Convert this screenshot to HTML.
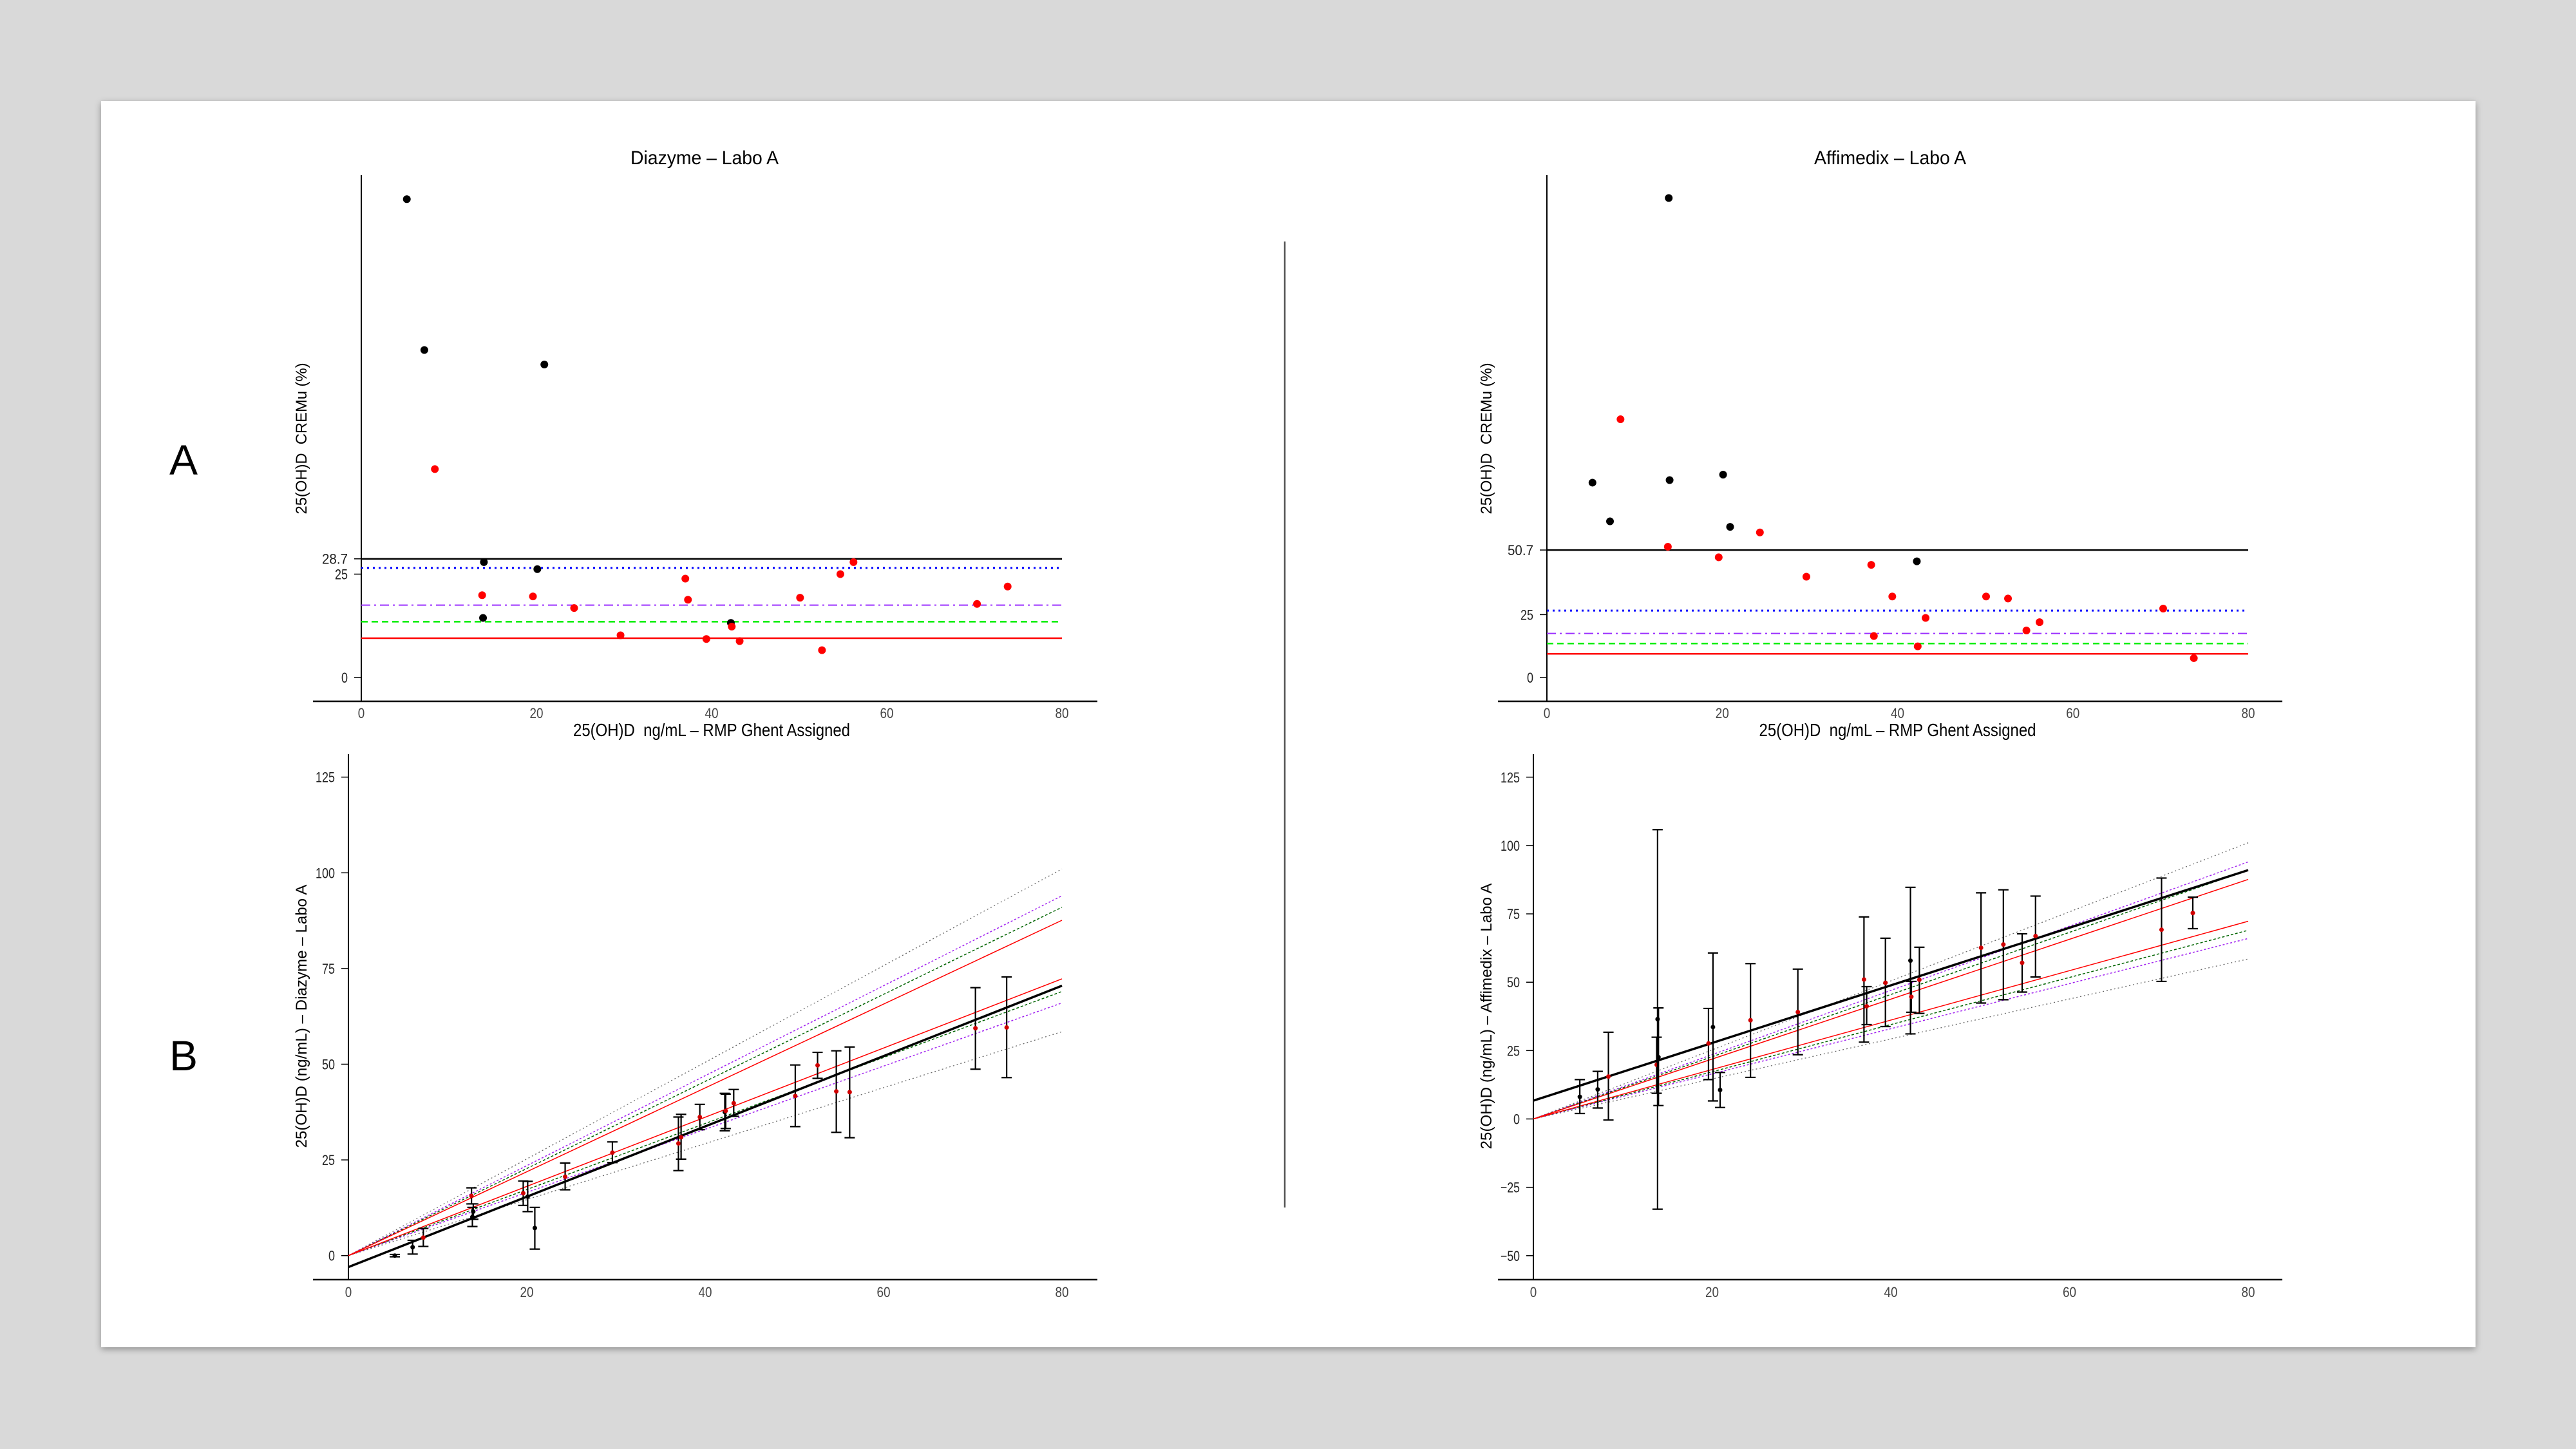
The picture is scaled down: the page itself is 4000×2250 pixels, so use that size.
<!DOCTYPE html>
<html><head><meta charset="utf-8"><style>
html,body{margin:0;padding:0;background:#d9d9d9;}
svg{display:block;}
text{font-family:"Liberation Sans",sans-serif;}
</style></head><body>
<svg id="fig" width="4000" height="2250" viewBox="0 0 4000 2250" xmlns="http://www.w3.org/2000/svg">
<defs><filter id="sh" x="-5%" y="-5%" width="110%" height="110%"><feDropShadow dx="0" dy="3" stdDeviation="5" flood-color="#000" flood-opacity="0.35"/></filter></defs>
<rect x="0" y="0" width="4000" height="2250" fill="#d9d9d9"/>
<rect x="157" y="157" width="3687" height="1935" fill="#ffffff" filter="url(#sh)"/>
<text x="263" y="737" font-size="66">A</text>
<text x="263" y="1662" font-size="66">B</text>
<line x1="1995" y1="375" x2="1995" y2="1875" stroke="#555" stroke-width="2.5"/>
<g id="plots"></g>
</svg>
<script>
// ---- data ----
const xVals = [5.2,7.2,8.4,13.8,13.9,14.0,19.6,20.1,20.9,24.3,29.6,37.0,37.3,39.4,42.2,42.3,43.2,50.1,52.6,54.7,56.2,70.3,73.8];
const isOutlier = [1,1,0,0,1,1,0,1,1,0,0,0,0,0,1,0,0,0,0,0,0,0,0];
const cremuDiazyme = [115.7,79.2,50.4,19.9,14.4,27.9,19.6,26.2,75.7,16.8,10.2,23.9,18.8,9.3,13.2,12.3,8.8,19.3,6.6,25.0,27.9,17.8,22.0];
const cremuAffimedix = [77.5,62.1,102.7,52.0,190.7,78.5,47.8,80.7,59.9,57.7,40.1,44.8,16.5,32.2,46.2,12.4,23.7,32.2,31.4,18.7,22.0,27.4,7.7];
const limitsDiazyme = [28.7,26.5,17.5,13.5,9.5];
const limitsAffimedix = [50.7,26.6,17.5,13.5,9.4];
const measDiazyme = [0.0,2.2,4.7,15.6,10.1,11.5,16.3,15.4,7.2,20.6,26.9,29.3,30.9,36.2,37.5,37.8,39.8,41.7,49.7,42.9,42.7,59.4,59.6];
const loDiazyme = [-0.3,0.4,2.4,13.5,7.6,9.5,13.1,11.5,1.7,17.2,24.3,22.2,25.2,32.9,32.6,33.2,36.4,33.7,46.3,32.2,30.8,48.7,46.5];
const hiDiazyme = [0.3,4.0,7.1,17.7,12.6,13.5,19.5,19.4,12.6,24.2,29.7,36.2,36.9,39.5,42.4,42.2,43.4,49.8,53.1,53.5,54.5,70.0,72.8];
const measAffimedix = [8.1,10.8,15.5,19.8,36.5,22.6,27.6,33.6,10.6,36.1,39.1,51.0,41.2,49.8,57.9,44.7,50.9,62.6,63.8,57.1,66.9,69.2,75.3];
const loAffimedix = [2.0,4.0,-0.4,9.4,-33.0,4.9,14.4,6.6,4.2,15.2,23.5,28.1,34.5,33.8,31.1,39.0,38.6,42.4,43.6,46.4,51.9,50.3,69.6];
const hiAffimedix = [14.4,17.4,31.7,29.9,105.8,40.6,40.4,60.7,17.0,56.8,54.8,73.9,48.4,66.1,84.7,50.3,62.8,82.7,83.8,67.7,81.5,88.1,81.1];
const envUpperAt80 = [101,94,91,87.6];
const envLowerAt80 = [58.5,66,69,72.3];
const regDiazyme = [-3.0,70.5];
const regAffimedix = [6.7,91.0];
const xTicks = [0,20,40,60,80];
const yTicksADiazyme = [0,25,28.7];
const yTicksAAffimedix = [0,25,50.7];
const yTicksBDiazyme = [0,25,50,75,100,125];
const yTicksBAffimedix = [-50,-25,0,25,50,75,100,125];

// ---- drawing ----
const NS='http://www.w3.org/2000/svg';
const root=document.getElementById('plots');
function mk(tag,attrs,parent){const e=document.createElementNS(NS,tag);for(const k in attrs)e.setAttribute(k,attrs[k]);(parent||root).appendChild(e);return e;}
function txt(s,attrs,parent){const e=mk('text',attrs,parent);e.textContent=s;return e;}

function panel(cfg){
  const g=mk('g',{});
  
  
  const sx=v=>cfg.x0+(cfg.x80-cfg.x0)*v/80;
  const sy=v=>cfg.yz-v*cfg.k;
  const ya=mk('line',{x1:cfg.x0,y1:cfg.top,x2:cfg.x0,y2:cfg.axY,stroke:'#000','stroke-width':2},g);
  
  
  const xa=mk('line',{x1:cfg.axL,y1:cfg.axY,x2:cfg.axR,y2:cfg.axY,stroke:'#000','stroke-width':2.5},g);
  
  
  xTicks.forEach(t=>{
    const e=txt(String(t),{x:sx(t),y:cfg.xtY,'font-size':22,'text-anchor':'middle',fill:'#444',textLength:String(t).length*10.5,lengthAdjust:'spacingAndGlyphs'},g);
    
    
  });
  cfg.yTicks.forEach(t=>{
    const s=String(t).replace('-','\u2212');
    const tl=mk('line',{x1:cfg.x0-11,y1:sy(t),x2:cfg.x0,y2:sy(t),stroke:'#000','stroke-width':1.5},g);
    
    
    const e=txt(s,{x:cfg.x0-21,y:sy(t)+8,'font-size':22,'text-anchor':'end',fill:'#222',textLength:s.length*10,lengthAdjust:'spacingAndGlyphs'},g);
    
    
  });
  if(cfg.title){
    const e=txt(cfg.title,{x:cfg.titleX,y:255,'font-size':30,'text-anchor':'middle',textLength:cfg.titleW,lengthAdjust:'spacingAndGlyphs'},g);
    
    
  }
  if(cfg.xTitle){
    const e=txt(cfg.xTitle,{x:(cfg.x0+cfg.x80)/2,y:1143,'font-size':28,'text-anchor':'middle',textLength:430,lengthAdjust:'spacingAndGlyphs'},g);
    
    
  }
  const yt=txt(cfg.yTitle,{x:0,y:0,'font-size':24,'text-anchor':'middle',textLength:cfg.yTitleW,lengthAdjust:'spacingAndGlyphs',transform:`translate(${cfg.yTitleX},${cfg.yTitleY}) rotate(-90)`},g);
  
  
  return {g,sx,sy};
}

const limStyles=[
  {c:'#000',d:'',w:2.5,n:'limit-line-black'},
  {c:'#0000ff',d:'3 6',w:3,n:'limit-line-blue-dotted'},
  {c:'#9b30ff',d:'14 6 3 6',w:2,n:'limit-line-purple-dashdot'},
  {c:'#00ee00',d:'10 6',w:2.5,n:'limit-line-green-dashed'},
  {c:'#ff0000',d:'',w:2.5,n:'limit-line-red'}
];

function panelA(cfg,vals,limits){
  const {g,sx,sy}=panel(cfg);
  limits.forEach((v,i)=>{
    const s=limStyles[i];
    const l=mk('line',{x1:cfg.x0,y1:sy(v),x2:cfg.x80,y2:sy(v),stroke:s.c,'stroke-width':s.w,'stroke-dasharray':s.d},g);
    
    
  });
  vals.forEach((v,i)=>{
    const c=mk('circle',{cx:sx(xVals[i]),cy:sy(v),r:6,fill:isOutlier[i]?'#000':'#ff0000'},g);
    
    
  });
}

const envStyles=[
  {c:'#666',d:'2 4',w:1.3,n:'envelope-grey'},
  {c:'#a020f0',d:'3 3',w:1.5,n:'envelope-purple'},
  {c:'#006400',d:'4 3',w:1.5,n:'envelope-green'},
  {c:'#ff0000',d:'',w:1.5,n:'envelope-red'}
];

function panelB(cfg,meas,lo,hi,reg){
  const {g,sx,sy}=panel(cfg);
  envUpperAt80.forEach((v,i)=>{
    const s=envStyles[i];
    [v,envLowerAt80[i]].forEach(end=>{
      const l=mk('line',{x1:sx(0),y1:sy(0),x2:sx(80),y2:sy(end),stroke:s.c,'stroke-width':s.w,'stroke-dasharray':s.d},g);
      
      
    });
  });
  const rl=mk('line',{x1:sx(0),y1:sy(reg[0]),x2:sx(80),y2:sy(reg[1]),stroke:'#000','stroke-width':3.5},g);
  
  
  meas.forEach((v,i)=>{
    const x=sx(xVals[i]);
    const eb=mk('path',{d:`M${x},${sy(lo[i])}V${sy(hi[i])}M${x-8},${sy(lo[i])}H${x+8}M${x-8},${sy(hi[i])}H${x+8}`,stroke:'#000','stroke-width':2.2,fill:'none'},g);
    
    
    const c=mk('circle',{cx:x,cy:sy(v),r:3.5,fill:isOutlier[i]?'#000':'#d00000'},g);
    
    
  });
}

panelA({name:'panel-a-diazyme',x0:561,x80:1649,yz:1052,k:6.42,top:272,axY:1089,axL:486,axR:1704,xtY:1115,yTicks:yTicksADiazyme,
  title:'Diazyme \u2013 Labo A',titleX:1094,titleW:230,xTitle:'25(OH)D\u00a0 ng/mL \u2013 RMP Ghent Assigned',
  yTitle:'25(OH)D\u00a0 CREMu (%)',yTitleX:476,yTitleY:681,yTitleW:235},cremuDiazyme,limitsDiazyme);
panelA({name:'panel-a-affimedix',x0:2402,x80:3491,yz:1052,k:3.904,top:272,axY:1089,axL:2326,axR:3544,xtY:1115,yTicks:yTicksAAffimedix,
  title:'Affimedix \u2013 Labo A',titleX:2935,titleW:236,xTitle:'25(OH)D\u00a0 ng/mL \u2013 RMP Ghent Assigned',
  yTitle:'25(OH)D\u00a0 CREMu (%)',yTitleX:2316,yTitleY:681,yTitleW:235},cremuAffimedix,limitsAffimedix);
panelB({name:'panel-b-diazyme',x0:541,x80:1649,yz:1949.7,k:5.944,top:1171,axY:1987,axL:486,axR:1704,xtY:2014,yTicks:yTicksBDiazyme,
  yTitle:'25(OH)D (ng/mL) \u2013 Diazyme \u2013 Labo A',yTitleX:476,yTitleY:1578,yTitleW:409},measDiazyme,loDiazyme,hiDiazyme,regDiazyme);
panelB({name:'panel-b-affimedix',x0:2381,x80:3491,yz:1737.5,k:4.246,top:1171,axY:1987,axL:2326,axR:3544,xtY:2014,yTicks:yTicksBAffimedix,
  yTitle:'25(OH)D (ng/mL) \u2013 Affimedix \u2013 Labo A',yTitleX:2316,yTitleY:1578,yTitleW:413},measAffimedix,loAffimedix,hiAffimedix,regAffimedix);
</script>
</body></html>
